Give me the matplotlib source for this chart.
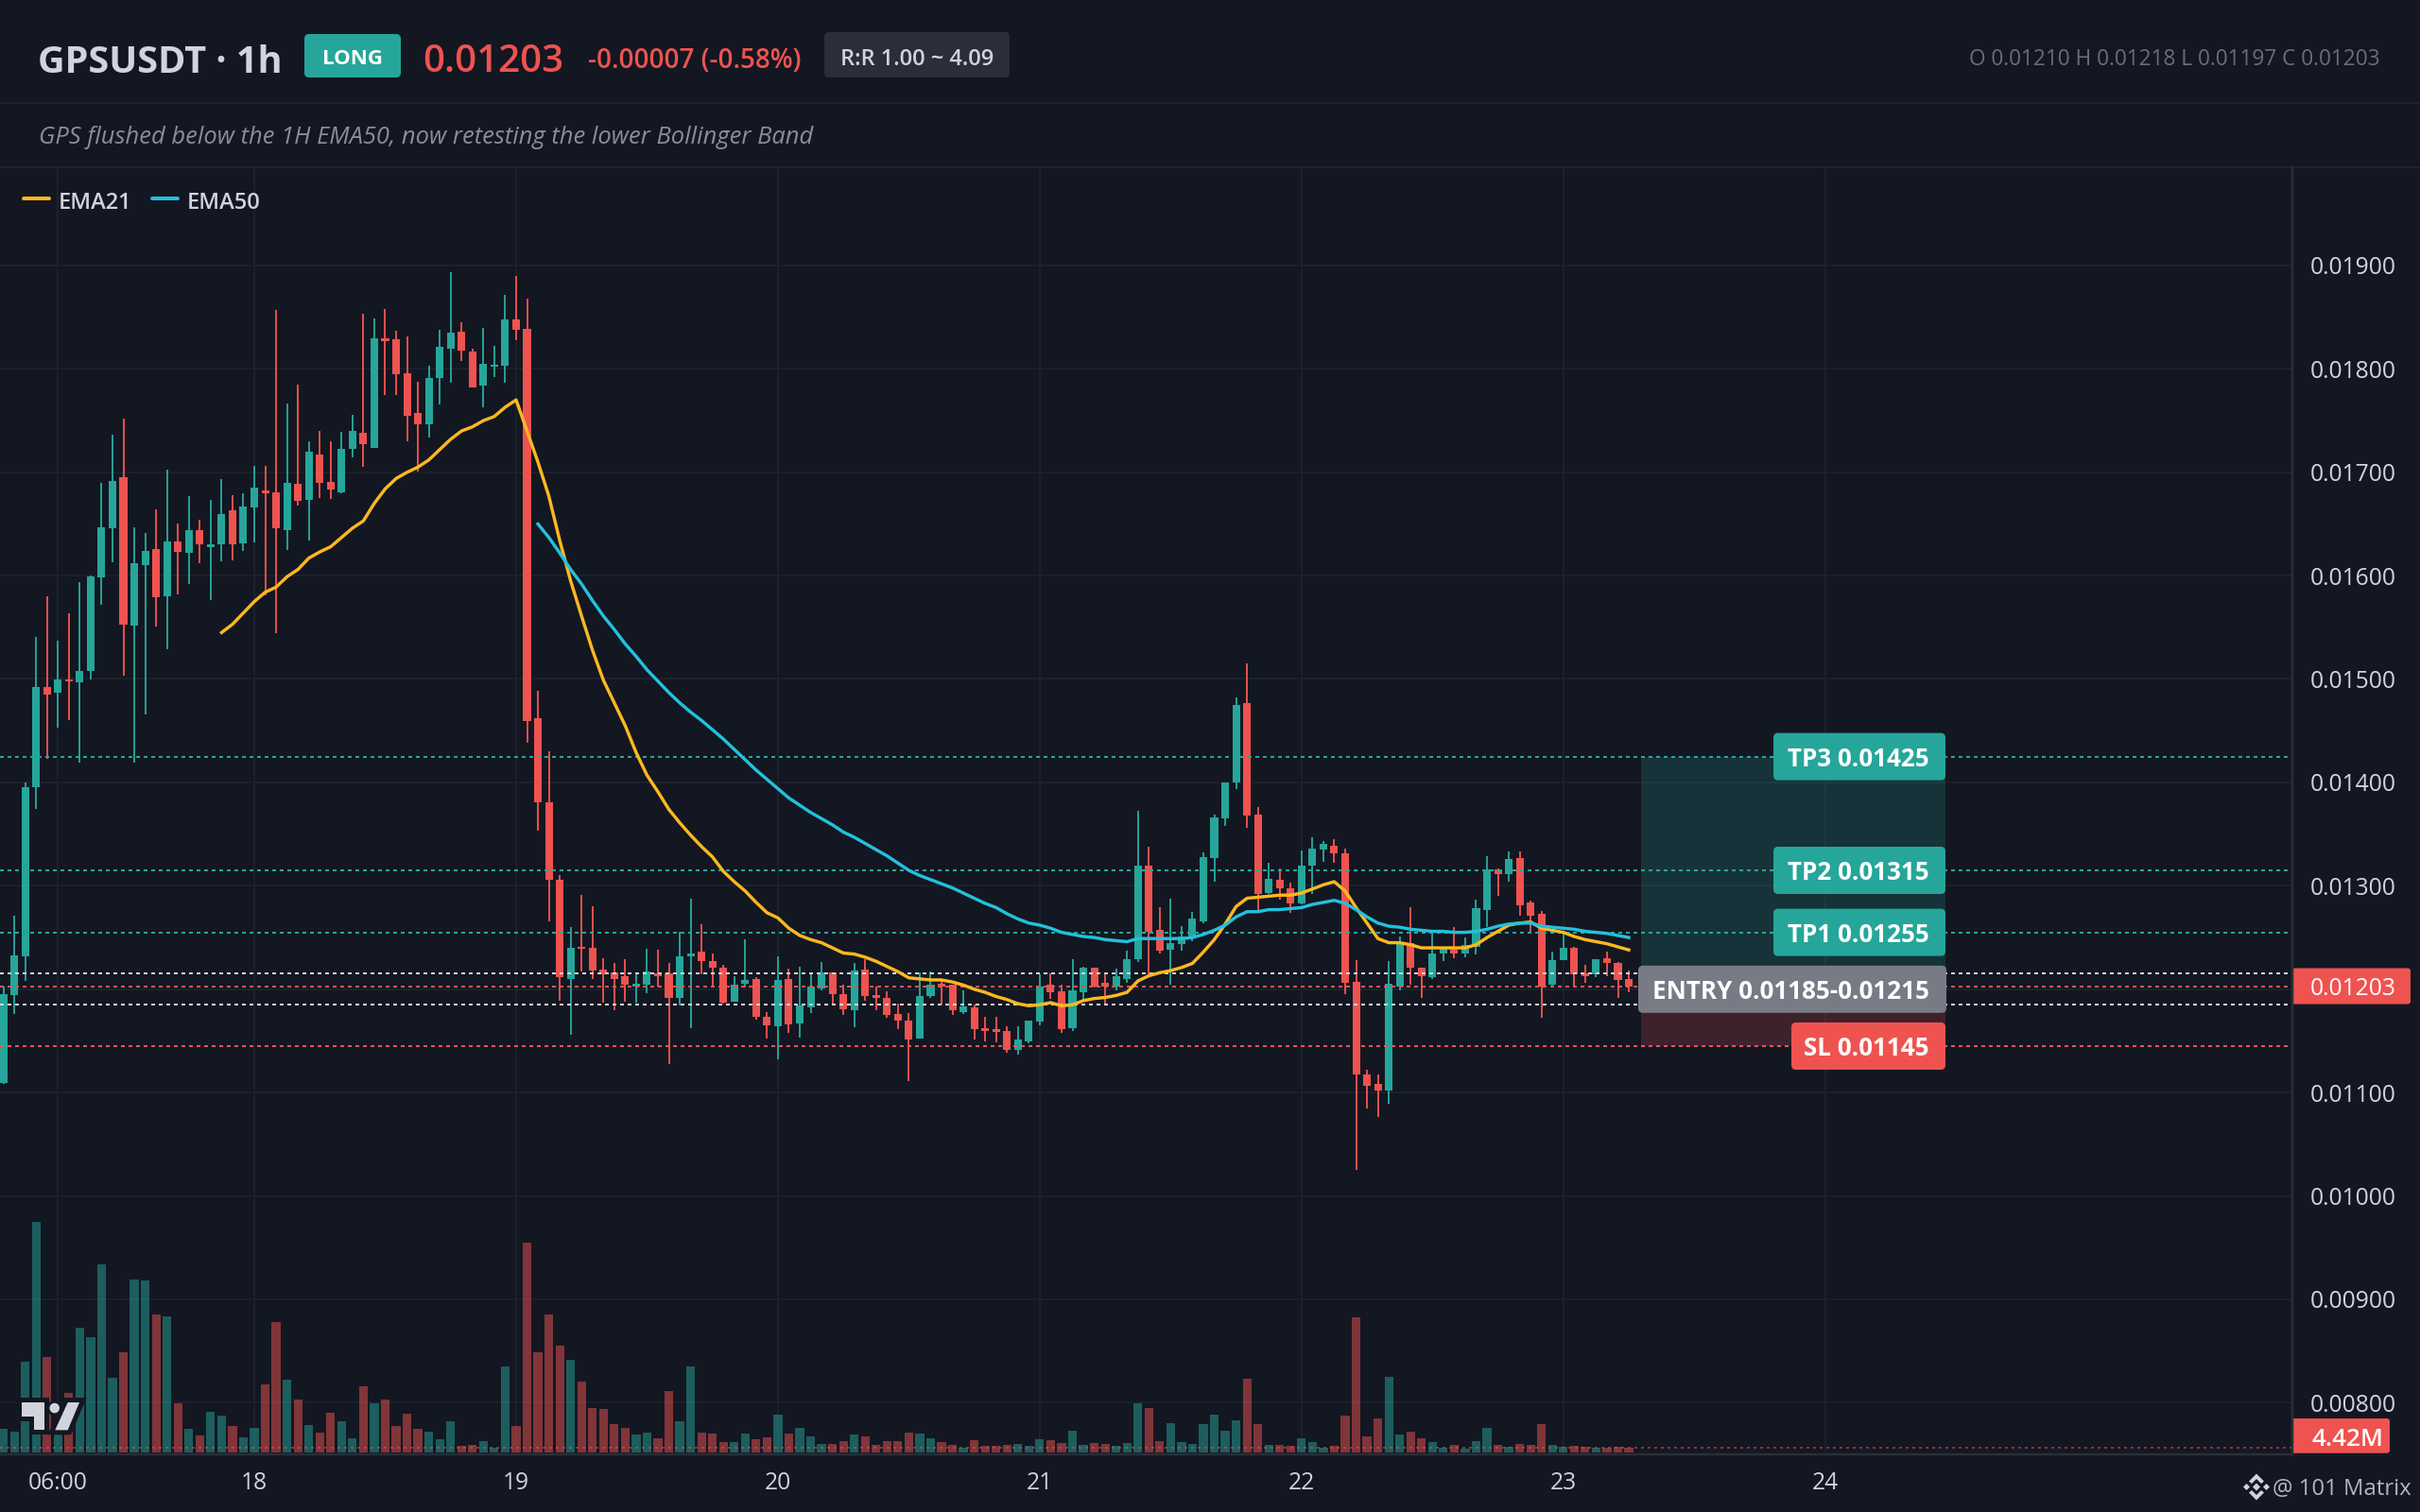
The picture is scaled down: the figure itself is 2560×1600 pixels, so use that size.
import numpy as np
import matplotlib
matplotlib.use('Agg')
import matplotlib.pyplot as plt
from matplotlib.patches import FancyBboxPatch, Polygon, Circle, Rectangle

plt.rcParams['font.family'] = ['Open Sans', 'DejaVu Sans']

# hourly candles, hour 0 is 00:00 on the 18th
first_hour = -23
opens = [0.01109,0.01194,0.01232,0.01395,0.01492,0.01487,0.01500,0.01497,0.01508,0.01598,
0.01646,0.01695,0.01552,0.01610,0.01626,0.01580,0.01633,0.01622,0.01644,0.01628,
0.01630,0.01663,0.01631,0.01666,0.01682,0.01681,0.01644,0.01689,0.01673,0.01717,
0.01691,0.01681,0.01723,0.01738,0.01724,0.01830,0.01829,0.01796,0.01757,0.01746,
0.01791,0.01820,0.01836,0.01817,0.01784,0.01802,0.01803,0.01848,0.01839,0.01462,
0.01381,0.01306,0.01210,0.01241,0.01240,0.01219,0.01216,0.01213,0.01203,0.01204,
0.01215,0.01215,0.01192,0.01232,0.01236,0.01227,0.01221,0.01188,0.01205,0.01210,
0.01173,0.01164,0.01210,0.01167,0.01182,0.01201,0.01216,0.01195,0.01180,0.01219,
0.01194,0.01192,0.01176,0.01170,0.01152,0.01193,0.01204,0.01204,0.01178,0.01182,
0.01162,0.01161,0.01160,0.01141,0.01150,0.01169,0.01204,0.01198,0.01162,0.01197,
0.01221,0.01206,0.01203,0.01210,0.01229,0.01320,0.01257,0.01238,0.01244,0.01251,
0.01266,0.01327,0.01365,0.01400,0.01477,0.01369,0.01293,0.01306,0.01298,0.01283,
0.01320,0.01335,0.01339,0.01331,0.01207,0.01118,0.01108,0.01102,0.01203,0.01245,
0.01221,0.01212,0.01235,0.01238,0.01235,0.01241,0.01277,0.01316,0.01311,0.01327,
0.01284,0.01273,0.01204,0.01228,0.01240,0.01215,0.01214,0.01230,0.01225,0.01210]
closes = [0.01195,0.01233,0.01395,0.01492,0.01485,0.01500,0.01498,0.01508,0.01599,0.01647,
0.01692,0.01553,0.01612,0.01624,0.01579,0.01633,0.01623,0.01644,0.01630,0.01630,
0.01660,0.01630,0.01667,0.01685,0.01680,0.01646,0.01690,0.01672,0.01720,0.01690,
0.01683,0.01723,0.01740,0.01727,0.01830,0.01827,0.01795,0.01755,0.01746,0.01791,
0.01821,0.01835,0.01818,0.01782,0.01805,0.01803,0.01848,0.01838,0.01459,0.01381,
0.01306,0.01212,0.01240,0.01239,0.01218,0.01214,0.01210,0.01204,0.01204,0.01217,
0.01213,0.01192,0.01232,0.01235,0.01227,0.01221,0.01187,0.01204,0.01209,0.01173,
0.01165,0.01209,0.01166,0.01184,0.01203,0.01216,0.01195,0.01181,0.01218,0.01193,
0.01192,0.01175,0.01170,0.01151,0.01193,0.01204,0.01203,0.01180,0.01183,0.01161,
0.01160,0.01159,0.01141,0.01151,0.01170,0.01203,0.01197,0.01161,0.01199,0.01221,
0.01203,0.01203,0.01213,0.01229,0.01320,0.01256,0.01237,0.01245,0.01251,0.01268,
0.01328,0.01366,0.01400,0.01475,0.01368,0.01292,0.01307,0.01298,0.01283,0.01320,
0.01336,0.01341,0.01331,0.01206,0.01118,0.01107,0.01102,0.01205,0.01245,0.01221,
0.01213,0.01235,0.01240,0.01235,0.01243,0.01278,0.01316,0.01311,0.01326,0.01281,
0.01271,0.01203,0.01228,0.01240,0.01214,0.01213,0.01229,0.01225,0.01209,0.01203]
highs = [0.01203,0.01271,0.01400,0.01541,0.01580,0.01537,0.01564,0.01594,0.01600,0.01690,
0.01736,0.01752,0.01647,0.01641,0.01664,0.01703,0.01650,0.01677,0.01654,0.01673,
0.01693,0.01678,0.01680,0.01706,0.01706,0.01857,0.01767,0.01785,0.01730,0.01740,
0.01730,0.01739,0.01756,0.01853,0.01849,0.01858,0.01837,0.01831,0.01788,0.01803,
0.01838,0.01894,0.01845,0.01820,0.01840,0.01822,0.01872,0.01890,0.01868,0.01489,
0.01430,0.01310,0.01260,0.01291,0.01280,0.01230,0.01225,0.01229,0.01214,0.01239,
0.01238,0.01225,0.01256,0.01288,0.01263,0.01235,0.01224,0.01213,0.01248,0.01212,
0.01178,0.01232,0.01220,0.01222,0.01214,0.01226,0.01216,0.01204,0.01225,0.01229,
0.01203,0.01198,0.01186,0.01177,0.01216,0.01217,0.01208,0.01204,0.01199,0.01185,
0.01173,0.01173,0.01164,0.01164,0.01170,0.01214,0.01215,0.01204,0.01229,0.01222,
0.01221,0.01215,0.01220,0.01237,0.01373,0.01338,0.01279,0.01288,0.01261,0.01275,
0.01332,0.01369,0.01400,0.01482,0.01515,0.01376,0.01322,0.01317,0.01303,0.01334,
0.01347,0.01343,0.01345,0.01336,0.01228,0.01122,0.01118,0.01227,0.01251,0.01279,
0.01221,0.01254,0.01241,0.01260,0.01250,0.01287,0.01329,0.01317,0.01333,0.01333,
0.01286,0.01276,0.01236,0.01255,0.01241,0.01224,0.01229,0.01236,0.01226,0.01218]
lows = [0.01108,0.01176,0.01208,0.01374,0.01423,0.01453,0.01460,0.01419,0.01500,0.01572,
0.01613,0.01503,0.01419,0.01466,0.01551,0.01529,0.01582,0.01592,0.01612,0.01576,
0.01614,0.01615,0.01624,0.01632,0.01581,0.01544,0.01625,0.01668,0.01634,0.01675,
0.01674,0.01680,0.01714,0.01705,0.01724,0.01775,0.01775,0.01730,0.01701,0.01734,
0.01766,0.01787,0.01808,0.01782,0.01763,0.01792,0.01787,0.01828,0.01438,0.01353,
0.01266,0.01189,0.01156,0.01217,0.01210,0.01187,0.01180,0.01188,0.01187,0.01196,
0.01203,0.01128,0.01184,0.01162,0.01214,0.01203,0.01186,0.01188,0.01202,0.01171,
0.01152,0.01132,0.01158,0.01153,0.01177,0.01199,0.01185,0.01175,0.01163,0.01189,
0.01180,0.01172,0.01161,0.01111,0.01152,0.01192,0.01185,0.01175,0.01176,0.01151,
0.01150,0.01149,0.01139,0.01137,0.01148,0.01165,0.01191,0.01158,0.01160,0.01190,
0.01202,0.01185,0.01199,0.01206,0.01226,0.01214,0.01235,0.01204,0.01237,0.01246,
0.01264,0.01304,0.01358,0.01394,0.01356,0.01277,0.01292,0.01287,0.01274,0.01282,
0.01292,0.01323,0.01322,0.01195,0.01025,0.01085,0.01076,0.01089,0.01199,0.01204,
0.01192,0.01210,0.01227,0.01230,0.01231,0.01234,0.01260,0.01290,0.01304,0.01271,
0.01255,0.01172,0.01203,0.01228,0.01203,0.01206,0.01212,0.01213,0.01192,0.01197]
# volume in millions
volumes = [21.0,18.5,79.8,202.3,83.9,20.0,52.4,109.6,101.3,165.0,
65.7,88.0,151.8,151.0,121.2,119.5,43.3,21.0,15.2,35.9,
32.6,23.5,13.5,21.8,59.9,114.5,64.0,46.6,24.3,17.7,
35.1,27.6,12.7,58.2,43.3,46.6,23.5,34.2,21.0,18.5,
11.9,27.6,6.1,6.9,10.2,4.4,75.6,23.5,184.1,88.0,
121.2,93.8,81.4,62.4,39.2,38.4,25.1,21.8,16.0,17.7,
12.7,54.1,27.6,75.6,17.7,16.8,9.4,9.4,16.8,11.9,
13.5,33.4,16.8,21.8,14.4,7.7,7.7,10.2,16.0,14.4,
6.9,10.2,10.2,17.7,16.8,12.7,9.4,6.9,4.4,11.0,
6.1,6.1,6.9,7.7,6.1,11.9,11.0,8.6,19.3,6.9,
8.6,7.7,6.1,8.6,43.3,39.2,10.2,25.9,9.4,7.7,
25.1,33.4,19.3,28.4,64.9,25.1,6.9,6.9,6.1,12.7,
9.4,4.4,6.1,32.6,118.7,14.4,30.1,66.5,16.0,18.5,
12.7,9.4,4.4,6.9,3.6,10.2,21.8,6.9,5.2,7.7,
6.9,25.1,6.9,5.2,6.1,5.2,4.4,4.4,5.2,4.42]

ema21_start = -3
ema21 = [0.01545,0.01553,0.01564,0.01575,0.01584,0.01589,0.01599,0.01606,0.01617,0.01623,
0.01628,0.01637,0.01646,0.01653,0.01670,0.01684,0.01694,0.01700,0.01705,0.01712,
0.01722,0.01732,0.01740,0.01744,0.01750,0.01754,0.01763,0.01770,0.01740,0.01710,
0.01677,0.01634,0.01595,0.01561,0.01528,0.01499,0.01477,0.01455,0.01429,0.01407,
0.01391,0.01374,0.01361,0.01349,0.01338,0.01328,0.01314,0.01304,0.01295,0.01284,
0.01274,0.01269,0.01259,0.01252,0.01248,0.01245,0.01240,0.01235,0.01234,0.01231,
0.01227,0.01222,0.01217,0.01211,0.01210,0.01209,0.01209,0.01207,0.01204,0.01200,
0.01197,0.01193,0.01190,0.01186,0.01184,0.01185,0.01187,0.01184,0.01185,0.01189,
0.01191,0.01192,0.01194,0.01197,0.01208,0.01213,0.01216,0.01218,0.01221,0.01225,
0.01236,0.01248,0.01263,0.01280,0.01288,0.01289,0.01290,0.01291,0.01291,0.01293,
0.01297,0.01301,0.01304,0.01295,0.01279,0.01264,0.01249,0.01245,0.01245,0.01243,
0.01240,0.01240,0.01240,0.01240,0.01240,0.01243,0.01250,0.01256,0.01262,0.01264,
0.01265,0.01259,0.01257,0.01255,0.01251,0.01248,0.01246,0.01244,0.01241,0.01238]
ema50_start = 26
ema50 = [0.01650,0.01637,0.01622,0.01606,0.01592,0.01576,0.01561,0.01548,0.01534,0.01522,
0.01509,0.01498,0.01487,0.01477,0.01468,0.01460,0.01451,0.01442,0.01432,0.01422,
0.01412,0.01403,0.01394,0.01385,0.01378,0.01371,0.01365,0.01359,0.01352,0.01347,
0.01341,0.01335,0.01329,0.01322,0.01315,0.01310,0.01306,0.01302,0.01298,0.01293,
0.01288,0.01283,0.01279,0.01273,0.01268,0.01264,0.01262,0.01259,0.01255,0.01253,
0.01251,0.01250,0.01248,0.01247,0.01246,0.01249,0.01249,0.01249,0.01249,0.01249,
0.01250,0.01253,0.01257,0.01262,0.01270,0.01275,0.01275,0.01277,0.01277,0.01278,
0.01279,0.01282,0.01284,0.01286,0.01283,0.01277,0.01270,0.01264,0.01261,0.01260,
0.01258,0.01257,0.01256,0.01256,0.01255,0.01255,0.01256,0.01258,0.01261,0.01263,
0.01264,0.01264,0.01261,0.01260,0.01259,0.01258,0.01256,0.01255,0.01254,0.01252,0.01250]

price_ticks = [0.008,0.009,0.010,0.011,0.012,0.013,0.014,0.015,0.016,0.017,0.018,0.019]
price_tick_labels = ['0.00800','0.00900','0.01000','0.01100',None,'0.01300','0.01400','0.01500','0.01600','0.01700','0.01800','0.01900']
time_ticks = [-18,0,24,48,72,96,120,144]
time_tick_labels = ['06:00','18','19','20','21','22','23','24']

tp_levels = [0.01255,0.01315,0.01425]
tp_labels = ['TP1 0.01255','TP2 0.01315','TP3 0.01425']
entry_levels = [0.01185,0.01215]
entry_mid = 0.012
sl_level = 0.01145
last_price = 0.01203
last_volume = 4.42

BG = '#131722'
GRID = '#1e222d'
BORDER = '#2a2e39'
TEXT = '#d1d4dc'
GREY = '#787b86'
GREEN = '#26a69a'
RED = '#ef5350'
YELLOW = '#ffb820'
CYAN = '#22c1dc'
W, H = 2560, 1600
PANEL_R, PANEL_T, PANEL_B = 2425, 177, 1538.7

def px(p):
    return p * 0.72

def price_y(p):
    return 281 + (0.019 - p) / 0.001 * 109.4

fig = plt.figure(figsize=(W / 100, H / 100), dpi=100, facecolor=BG)
pos = [0, 1 - PANEL_B / H, PANEL_R / W, (PANEL_B - PANEL_T) / H]

hours = np.arange(first_hour, first_hour + len(opens))
xlim = (-269 / 11.54, (PANEL_R - 269) / 11.54)

# volume sits underneath, same hours on x
ax_vol = fig.add_axes(pos, facecolor=BG, zorder=1)
ax_vol.set_xlim(xlim)
ax_vol.set_ylim(-1.2, 1126)
ax_vol.axis('off')

ax = fig.add_axes(pos, zorder=2)
ax.patch.set_visible(False)
ax.set_xlim(xlim)
ax.set_ylim(0.01900 - (PANEL_B - 281) / 109400, 0.01900 + (281 - PANEL_T) / 109400)
ax.axis('off')

for p in price_ticks:
    ax_vol.axhline((PANEL_B - price_y(p)) * 0.828 - 1.2, color=GRID, lw=px(1.7), zorder=0)
for t in time_ticks:
    ax_vol.axvline(t, color=GRID, lw=px(1.7), zorder=0)

o = np.array(opens)
c = np.array(closes)
up = c >= o
colors = [GREEN if u else RED for u in up]
ax_vol.bar(hours, volumes, width=0.8, color=colors, alpha=0.5, linewidth=0, zorder=1)

# shaded reward / risk boxes
zone_x0 = (1736 - 269) / 11.54
zone_x1 = (2058 - 269) / 11.54
ax.add_patch(Rectangle((zone_x0, entry_mid), zone_x1 - zone_x0, tp_levels[2] - entry_mid,
                       facecolor=GREEN, alpha=0.2, linewidth=0, zorder=1))
ax.add_patch(Rectangle((zone_x0, sl_level), zone_x1 - zone_x0, entry_mid - sl_level,
                       facecolor=RED, alpha=0.2, linewidth=0, zorder=1))

ax.vlines(hours, lows, highs, colors=colors, linewidth=px(1.9), zorder=2)
heights = np.maximum(np.abs(c - o), 0.00002)
ax.bar(hours, heights, bottom=np.minimum(o, c), width=0.7, color=colors, linewidth=0, zorder=3)

dash = (0, (2, 2))
for p in tp_levels:
    ax.axhline(p, color=GREEN, lw=px(2), ls=dash, zorder=4)
for p in entry_levels:
    ax.axhline(p, color=TEXT, lw=px(2), ls=dash, zorder=4)
ax.axhline(last_price, color=RED, lw=px(2), ls=dash, zorder=4)
ax.axhline(sl_level, color=RED, lw=px(2), ls=dash, zorder=4)
ax_vol.axhline(last_volume, color=RED, alpha=0.5, lw=px(2), ls=(0, (1.5, 2)), zorder=3)

ax.plot(np.arange(ema21_start, ema21_start + len(ema21)), ema21, color=YELLOW, lw=px(3.4), zorder=5, solid_joinstyle='round')
ax.plot(np.arange(ema50_start, ema50_start + len(ema50)), ema50, color=CYAN, lw=px(3.4), zorder=5, solid_joinstyle='round')

# everything else is page furniture, drawn in pixel coordinates
ov = fig.add_axes([0, 0, 1, 1], zorder=3)
ov.patch.set_visible(False)
ov.set_xlim(0, W)
ov.set_ylim(H, 0)
ov.axis('off')

def box(x0, y0, x1, y1, color, r=5):
    ov.add_patch(FancyBboxPatch((x0, y0), x1 - x0, y1 - y0, boxstyle=f'round,pad=0,rounding_size={r}',
                                facecolor=color, edgecolor='none', linewidth=0))

def label(x, y, s, size, color=TEXT, ha='left', weight='normal', style='normal'):
    ov.text(x, y, s, fontsize=size, color=color, ha=ha, va='center_baseline', fontweight=weight, fontstyle=style)

# header
ov.plot([0, W], [108.7, 108.7], color=GRID, lw=px(2))
ov.plot([0, W], [176.7, 176.7], color=GRID, lw=px(2))
label(40, 62, 'GPSUSDT · 1h', 28.5, weight='bold')
box(322, 36, 424, 82, GREEN)
label(373, 59.5, 'LONG', 16, color='white', ha='center', weight='bold')
label(447.5, 61, '0.01203', 29, color=RED, weight='semibold')
label(622, 61, '-0.00007 (-0.58%)', 20, color=RED, weight='semibold')
box(872, 34, 1068, 82, BORDER)
label(970, 60, 'R:R 1.00 ~ 4.09', 17, ha='center', weight='semibold')
label(2518, 60, 'O 0.01210 H 0.01218 L 0.01197 C 0.01203', 16.3, color='#6a6d78', ha='right')
label(41, 142, 'GPS flushed below the 1H EMA50, now retesting the lower Bollinger Band', 18.4, color='#8b8e98', style='italic')

# legend
ov.plot([25, 52], [210, 210], color=YELLOW, lw=px(4), solid_capstyle='round')
label(62, 212, 'EMA21', 17, weight='semibold')
ov.plot([161, 188], [210, 210], color=CYAN, lw=px(4), solid_capstyle='round')
label(198, 212, 'EMA50', 17, weight='semibold')

# axis borders and tick labels
ov.plot([PANEL_R, PANEL_R], [PANEL_T, PANEL_B], color=BORDER, lw=px(2.5))
ov.plot([0, PANEL_R], [PANEL_B, PANEL_B], color=BORDER, lw=px(2.5))
for p, s in zip(price_ticks, price_tick_labels):
    if s:
        label(2444, price_y(p), s, 17.7)
for t, s in zip(time_ticks, time_tick_labels):
    label(269 + 11.54 * t, 1567, s, 17.7, ha='center')

# level tags
for p, s in zip(tp_levels, tp_labels):
    y = price_y(p)
    box(1876, y - 25, 2058, y + 25, GREEN)
    label(2041, y, s, 18.7, color='white', ha='right', weight='bold')
y = price_y(entry_mid)
box(1733, y - 25, 2059, y + 25, GREY)
label(2041, y, 'ENTRY 0.01185-0.01215', 18.7, color='white', ha='right', weight='bold')
y = price_y(sl_level)
box(1895, y - 25, 2058, y + 25, RED)
label(2041, y, 'SL 0.01145', 18.7, color='white', ha='right', weight='bold')

# last price / last volume tags
y = price_y(last_price)
box(2424, y - 19, 2550, y + 19, RED, r=3)
label(2444, y, '0.01203', 17.7, color='white')
box(2424, 1501, 2528, 1537.7, RED, r=3)
label(2445, 1520, '4.42M', 18.7, color='white', weight='semibold')

# tradingview style logo, dark outline first
logo_t = [(23.3, 1484), (47.3, 1484), (47.3, 1513.3), (36, 1513.3), (36, 1499.3), (23.3, 1499.3)]
logo_s = [(71.7, 1484), (84, 1484), (71.7, 1513.3), (58.3, 1513.3)]
for pts in (logo_t, logo_s):
    ov.add_patch(Polygon(pts, closed=True, facecolor=BG, edgecolor=BG, linewidth=px(10), joinstyle='miter'))
ov.add_patch(Circle((57.7, 1490), 8, facecolor=BG, edgecolor='none'))
for pts in (logo_t, logo_s):
    ov.add_patch(Polygon(pts, closed=True, facecolor=TEXT, edgecolor='none'))
ov.add_patch(Circle((57.7, 1490), 5.3, facecolor=TEXT, edgecolor='none'))

# credit mark
cx, cy = 2387, 1573.5
marks = [
    [(cx - 4, cy), (cx, cy - 4), (cx + 4, cy), (cx, cy + 4)],
    [(cx - 14, cy), (cx - 10.5, cy - 3.5), (cx - 7, cy), (cx - 10.5, cy + 3.5)],
    [(cx + 7, cy), (cx + 10.5, cy - 3.5), (cx + 14, cy), (cx + 10.5, cy + 3.5)],
    [(cx, cy - 14), (cx + 8, cy - 6), (cx + 5, cy - 3.5), (cx, cy - 8.5), (cx - 5, cy - 3.5), (cx - 8, cy - 6)],
    [(cx, cy + 14), (cx + 8, cy + 6), (cx + 5, cy + 3.5), (cx, cy + 8.5), (cx - 5, cy + 3.5), (cx - 8, cy + 6)],
]
for pts in marks:
    ov.add_patch(Polygon(pts, closed=True, facecolor=TEXT, edgecolor='none'))
label(2551, 1573, '@ 101 Matrix', 17.2, color='#b2b5be', ha='right')

fig.savefig('out.png', dpi=100, facecolor=BG)
